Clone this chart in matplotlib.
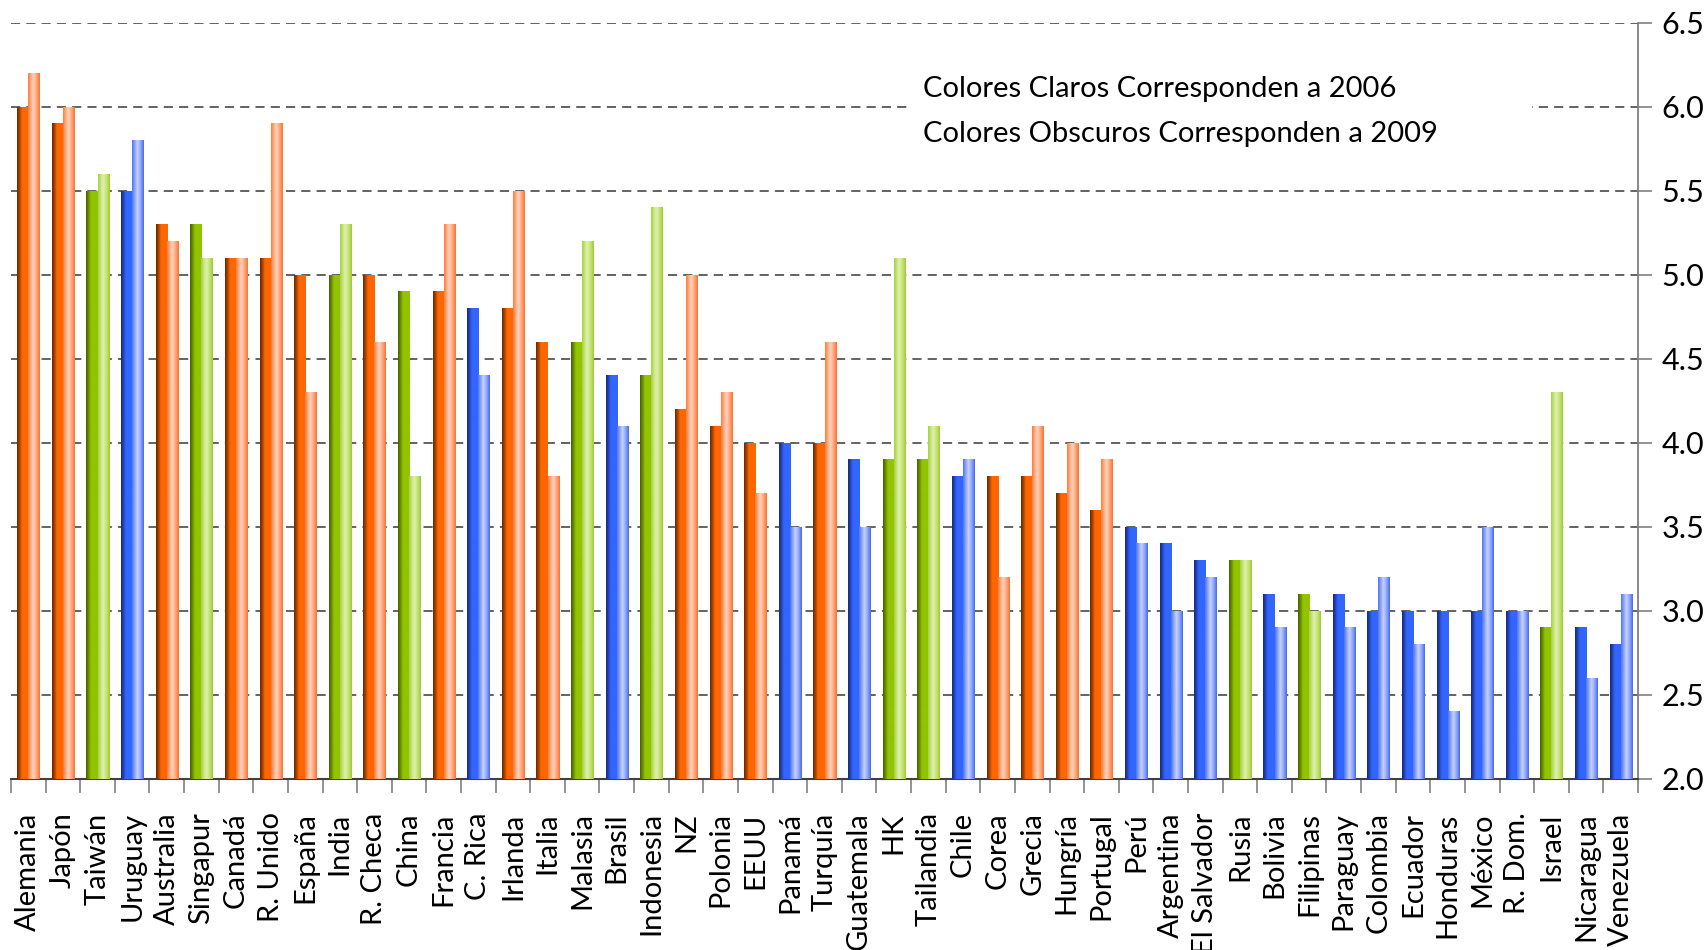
"""Competitiveness scores by country, 2009 (dark) vs 2006 (light)."""

import numpy as np
import matplotlib
matplotlib.use("Agg")
from matplotlib import pyplot as plt
from matplotlib.colors import LinearSegmentedColormap
from matplotlib.patches import Rectangle
from matplotlib.ticker import FixedLocator, FormatStrFormatter

countries = [
    "Alemania", "Japón", "Taiwán", "Uruguay", "Australia", "Singapur",
    "Canadá", "R. Unido", "España", "India", "R. Checa", "China",
    "Francia", "C. Rica", "Irlanda", "Italia", "Malasia", "Brasil",
    "Indonesia", "NZ", "Polonia", "EEUU", "Panamá", "Turquía",
    "Guatemala", "HK", "Tailandia", "Chile", "Corea", "Grecia",
    "Hungría", "Portugal", "Perú", "Argentina", "El Salvador", "Rusia",
    "Bolivia", "Filipinas", "Paraguay", "Colombia", "Ecuador", "Honduras",
    "México", "R. Dom.", "Israel", "Nicaragua", "Venezuela",
]
val_2009 = [
    6.0, 5.9, 5.5, 5.5, 5.3, 5.3, 5.1, 5.1, 5.0, 5.0, 5.0, 4.9,
    4.9, 4.8, 4.8, 4.6, 4.6, 4.4, 4.4, 4.2, 4.1, 4.0, 4.0, 4.0,
    3.9, 3.9, 3.9, 3.8, 3.8, 3.8, 3.7, 3.6, 3.5, 3.4, 3.3, 3.3,
    3.1, 3.1, 3.1, 3.0, 3.0, 3.0, 3.0, 3.0, 2.9, 2.9, 2.8,
]
val_2006 = [
    6.2, 6.0, 5.6, 5.8, 5.2, 5.1, 5.1, 5.9, 4.3, 5.3, 4.6, 3.8,
    5.3, 4.4, 5.5, 3.8, 5.2, 4.1, 5.4, 5.0, 4.3, 3.7, 3.5, 4.6,
    3.5, 5.1, 4.1, 3.9, 3.2, 4.1, 4.0, 3.9, 3.4, 3.0, 3.2, 3.3,
    2.9, 3.0, 2.9, 3.2, 2.8, 2.4, 3.5, 3.0, 4.3, 2.6, 3.1,
]
# o = orange, g = green, b = blue
groups = [
    "o", "o", "g", "b", "o", "g", "o", "o", "o", "g", "o", "g",
    "o", "b", "o", "o", "g", "b", "g", "o", "o", "o", "b", "o",
    "b", "g", "g", "b", "o", "o", "o", "o", "b", "b", "b", "g",
    "b", "g", "b", "b", "b", "b", "b", "b", "g", "b", "b",
]
note_lines = ["Colores Claros Corresponden a 2006",
              "Colores Obscuros Corresponden a 2009"]

# cylinder-like shading across each bar, left to right
DARK = {
    "o": [(0.0, "#6a2800"), (0.22, "#a84400"), (0.42, "#ff6600"), (1.0, "#ff6600")],
    "g": [(0.0, "#475f00"), (0.22, "#6a9000"), (0.42, "#93c400"), (1.0, "#93c400")],
    "b": [(0.0, "#182a70"), (0.22, "#2446c0"), (0.42, "#3366ff"), (1.0, "#3366ff")],
}
LIGHT = {
    "o": [(0.0, "#ff7a33"), (0.25, "#ffb08a"), (0.45, "#ffd2bc"), (0.75, "#ffa274"), (1.0, "#ff6f2c")],
    "g": [(0.0, "#a6d03c"), (0.25, "#c9e683"), (0.45, "#e0f1ad"), (0.75, "#c0e070"), (1.0, "#9fcb2c")],
    "b": [(0.0, "#4a74f5"), (0.25, "#90a8ff"), (0.45, "#c8d3ff"), (0.75, "#8aa2fa"), (1.0, "#4468f0")],
}
BASE_DARK = {"o": "#ff6600", "g": "#93c400", "b": "#3366ff"}
BASE_LIGHT = {"o": "#ffa274", "g": "#c9e683", "b": "#90a8ff"}


def shade(ax, bars, keys, profiles):
    """Overlay a horizontal gradient on each bar, clipped to it."""
    grad = np.linspace(0, 1, 96).reshape(1, -1)
    for bar, key in zip(bars, keys):
        cmap = LinearSegmentedColormap.from_list(key, profiles[key])
        x, y = bar.get_x(), bar.get_y()
        w, h = bar.get_width(), bar.get_height()
        im = ax.imshow(grad, cmap=cmap, extent=[x, x + w, y, y + h],
                       aspect="auto", interpolation="bilinear",
                       zorder=bar.get_zorder() + 0.1)
        im.set_clip_path(bar)
        im.set_clip_box(ax.bbox)


def main():
    plt.rcParams["font.family"] = ["Lato", "DejaVu Sans"]
    fig = plt.figure(figsize=(17.05, 9.5), dpi=100)
    ax = fig.add_axes([11 / 1705, 1 - 779 / 950, 1627 / 1705, 756 / 950])

    ymin, ymax = 2.0, 6.5
    pos = np.arange(len(countries))
    width = 0.32
    # bars start at the axis floor so nothing spills below it
    dark = ax.bar(pos - width / 2, np.array(val_2009) - ymin, bottom=ymin,
                  width=width, zorder=3, linewidth=0,
                  color=[BASE_DARK[g] for g in groups])
    light = ax.bar(pos + width / 2, np.array(val_2006) - ymin, bottom=ymin,
                   width=width, zorder=3, linewidth=0,
                   color=[BASE_LIGHT[g] for g in groups])
    shade(ax, dark, groups, DARK)
    shade(ax, light, groups, LIGHT)

    ax.set_xlim(-0.5, len(countries) - 0.5)
    ax.set_ylim(ymin, ymax)

    ax.yaxis.tick_right()
    ax.set_yticks(np.arange(ymin, ymax + 0.01, 0.5))
    ax.yaxis.set_major_formatter(FormatStrFormatter("%.1f"))
    ax.tick_params(axis="y", which="major", direction="out", length=10,
                   width=1.2, color="#808080", pad=7, labelsize=22)

    ax.set_xticks(pos)
    ax.set_xticklabels(countries, rotation=90, va="top", ha="center")
    ax.tick_params(axis="x", which="major", length=0, pad=24, labelsize=21)
    ax.xaxis.set_minor_locator(FixedLocator(np.arange(-0.5, len(countries), 1)))
    ax.tick_params(axis="x", which="minor", direction="out", length=10,
                   width=1.2, color="#808080")

    for y in np.arange(ymin + 0.5, ymax + 0.01, 0.5):
        ax.axhline(y, color="#383838", linewidth=1.1,
                   linestyle=(0, (6, 4)), zorder=1)

    for side in ("top", "left"):
        ax.spines[side].set_visible(False)
    ax.spines["right"].set_color("#808080")
    ax.spines["right"].set_linewidth(1.3)
    ax.spines["bottom"].set_color("#404040")
    ax.spines["bottom"].set_linewidth(1.5)

    # white note box over the gridlines
    ax.add_patch(Rectangle((899 / 1627, 0.812), 0.382, 0.152,
                           transform=ax.transAxes, facecolor="white",
                           edgecolor="none", zorder=2))
    for txt, yb in zip(note_lines, [0.902, 0.8426]):
        ax.text(0.5605, yb, txt, transform=ax.transAxes, fontsize=21,
                ha="left", va="baseline", zorder=4)

    fig.savefig("out.png", dpi=100)


if __name__ == "__main__":
    main()
